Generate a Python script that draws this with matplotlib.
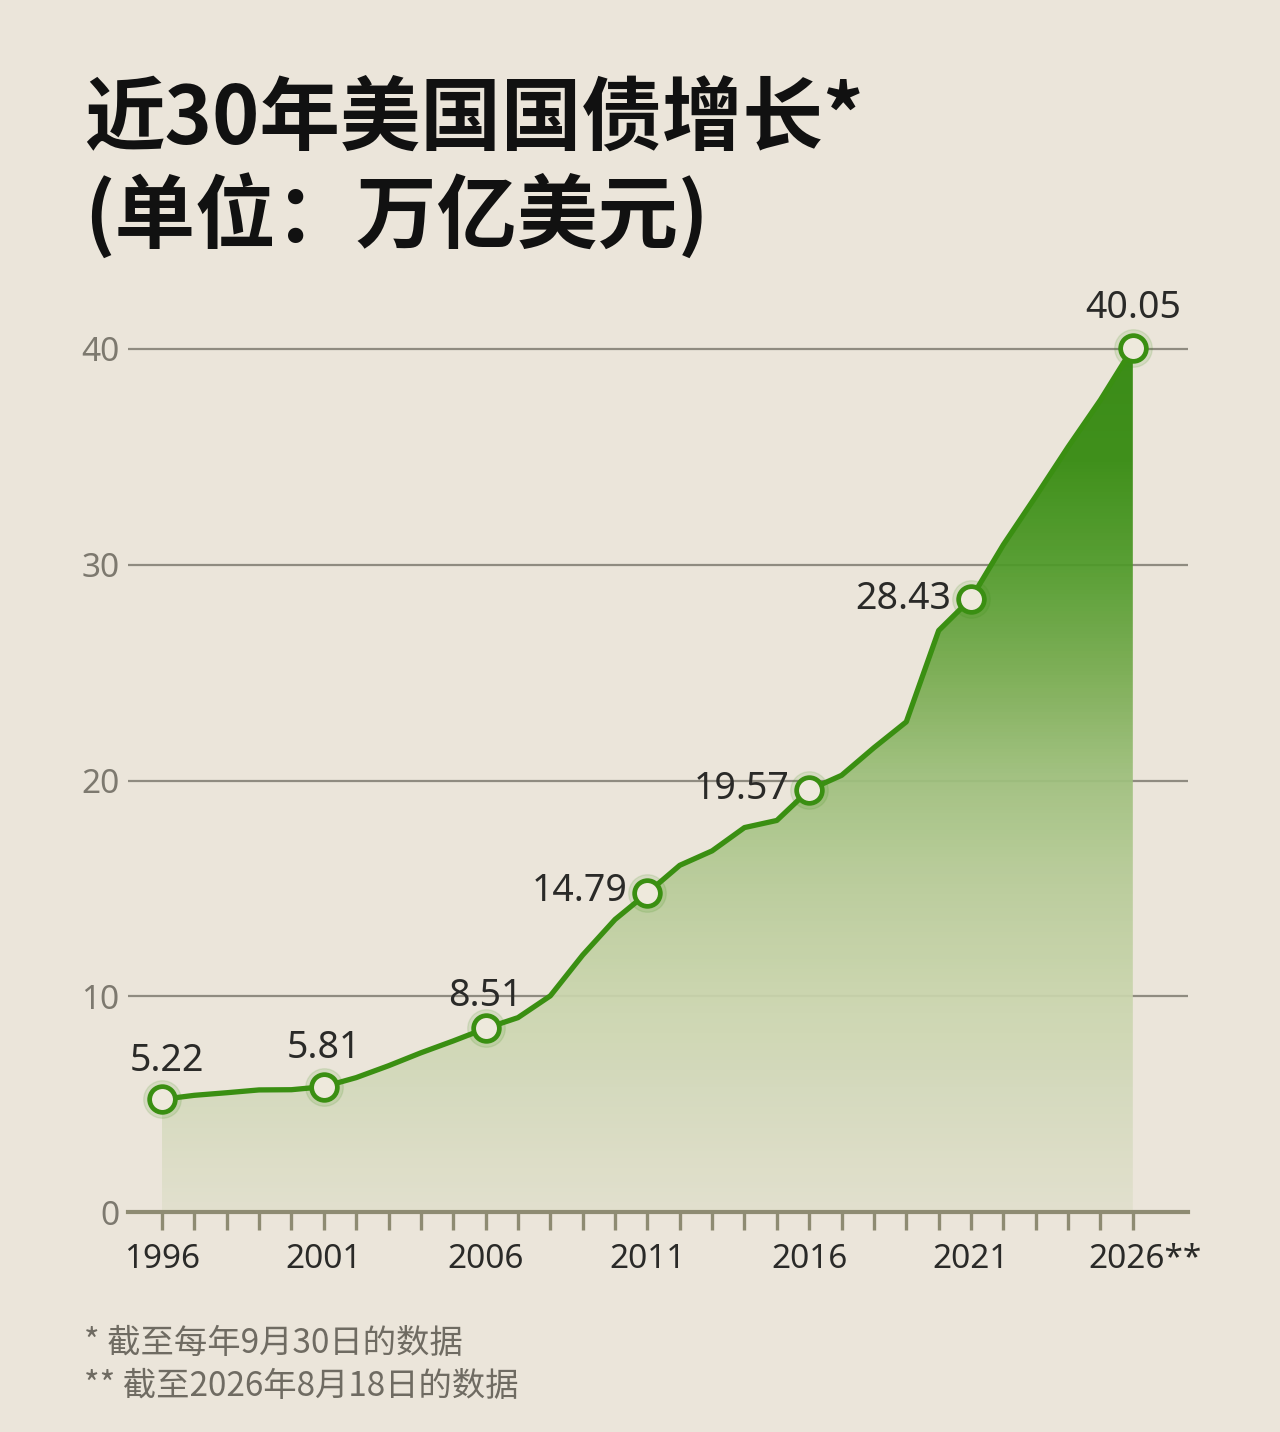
import numpy as np
import matplotlib
matplotlib.use("Agg")
import matplotlib.pyplot as plt
import matplotlib.transforms as mtransforms
from matplotlib.colors import LinearSegmentedColormap

plt.rcParams['font.family'] = ['Noto Sans CJK SC', 'DejaVu Sans']
num_font = ['Noto Sans', 'Noto Sans CJK SC']

# data (trillion USD, as of Sep 30 each year; 2026 as of Aug 18)
years = list(range(1996, 2027))
debt = [5.22, 5.41, 5.53, 5.66, 5.67, 5.81, 6.23, 6.78, 7.38, 7.93,
        8.51, 9.01, 10.02, 11.91, 13.56, 14.79, 16.07, 16.74, 17.82, 18.15,
        19.57, 20.24, 21.52, 22.72, 26.95, 28.43, 30.93, 33.17, 35.46, 37.64,
        40.05]
label_years = [1996, 2001, 2006, 2011, 2016, 2021, 2026]
tick_labels = ["1996", "2001", "2006", "2011", "2016", "2021", "2026**"]
y_ticks = [0, 10, 20, 30, 40]

bg = "#ebe5da"
green = "#3a8f12"
grid_c = "#8f8b80"
axis_c = "#8e8b72"

fig = plt.figure(figsize=(12.8, 14.32), dpi=100, facecolor=bg)
ax = fig.add_axes([0.1, 0.1536, 0.828, 0.6509])
ax.set_facecolor(bg)

# gridlines
for v in y_ticks[1:]:
    ax.axhline(v, color=grid_c, lw=1.6, zorder=1)

# gradient fill clipped to area under the line
x = np.array(years, dtype=float)
y = np.array(debt)
poly = ax.fill_between(x, 0, y, facecolor="none", edgecolor="none")
cmap = LinearSegmentedColormap.from_list("g", [
    (0.0, "#e2e0cd"), (0.12, "#d6dbbf"), (0.25, "#cad5ad"),
    (0.38, "#b8cc99"), (0.5, "#9fc07d"), (0.62, "#78ac50"),
    (0.75, "#4e9a28"), (0.87, "#338a0d"), (1.0, "#2e8609")])
grad = np.linspace(0, 1, 256).reshape(-1, 1)
img = ax.imshow(grad, cmap=cmap, origin="lower", aspect="auto",
                extent=[x[0], x[-1], 0, y.max()], alpha=0.93, zorder=2)
img.set_clip_path(poly.get_paths()[0], transform=ax.transData)
ax.set_xlim(1994.95, 2027.7)
ax.set_ylim(0, 43.2)

# line
ax.plot(x, y, color=green, lw=3.8, zorder=4, solid_joinstyle="round")

# markers with soft glow
lx = list(label_years)
ly = [debt[years.index(yr)] for yr in label_years]
ax.plot(lx, ly, "o", ms=27, color=green, alpha=0.12, zorder=5)
ax.plot(lx, ly, "o", ms=18.5, mfc="#eee9dc", mec=green, mew=3.4, zorder=6)

# value labels
offsets = {1996: ("center", 0.15, 1.8), 2001: ("center", 0, 1.8),
           2006: ("center", 0, 1.5), 2011: ("right", -0.6, 0.1),
           2016: ("right", -0.6, 0.05), 2021: ("right", -0.6, 0.0),
           2026: ("center", 0, 1.85)}
for yr, val in zip(lx, ly):
    ha, dx, dy = offsets[yr]
    ax.text(yr + dx, val + dy, f"{val:.2f}", ha=ha, va="center",
            fontsize=27, color="#2a2a28", zorder=7, family=num_font)

# axes styling
for s in ["top", "right", "left"]:
    ax.spines[s].set_visible(False)
ax.spines["bottom"].set_color(axis_c)
ax.spines["bottom"].set_linewidth(3)
ax.spines["bottom"].set_zorder(8)

ax.set_yticks(y_ticks)
ax.set_yticklabels([str(v) for v in y_ticks], fontsize=24, color="#7d796f",
                   family=num_font)
ax.tick_params(axis="y", length=0, pad=6)

ax.set_xticks(label_years)
ax.set_xticklabels(tick_labels, fontsize=24, color="#2a2a28", family=num_font)
ax.set_xticks(years, minor=True)
ax.tick_params(axis="x", which="both", direction="out", length=13, width=2.4,
               color=axis_c, pad=9)
# nudge the last label so "2026" sits under its tick
last = ax.get_xticklabels()[-1]
last.set_transform(last.get_transform() +
                   mtransforms.ScaledTranslation(0.12, 0, fig.dpi_scale_trans))

# titles
fig.text(0.066, 0.916, "近30年美国国债增长*", fontsize=58, fontweight="heavy",
         color="#111111", va="center", ha="left")
fig.text(0.066, 0.849, "(单位：万亿美元)", fontsize=58, fontweight="heavy",
         color="#111111", va="center", ha="left")

# footnotes
fig.text(0.066, 0.062, "* 截至每年9月30日的数据", fontsize=24,
         color="#6f6b62", va="center", ha="left")
fig.text(0.066, 0.032, "** 截至2026年8月18日的数据", fontsize=24,
         color="#6f6b62", va="center", ha="left")

fig.savefig("out.png", dpi=100, facecolor=bg)
